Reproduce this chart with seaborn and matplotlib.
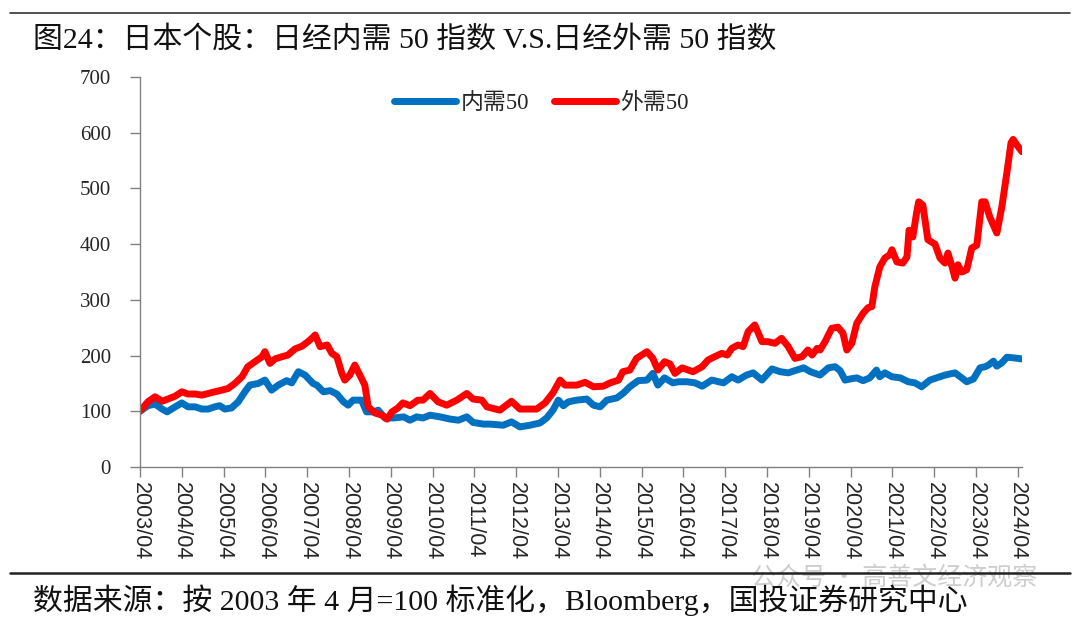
import matplotlib
matplotlib.use("Agg")
import matplotlib.pyplot as plt
from matplotlib.lines import Line2D
import pandas as pd
import seaborn as sns

# 内需50 (按 2003 年 4 月=100), x 为小数年份
nx_t = [2003.25, 2003.44, 2003.61, 2003.78, 2003.90, 2004.05, 2004.25, 2004.40, 2004.57, 2004.73,
        2004.88, 2005.04, 2005.16, 2005.28, 2005.44, 2005.60, 2005.76, 2005.88, 2006.08, 2006.24,
        2006.40, 2006.56, 2006.76, 2006.88, 2007.04, 2007.20, 2007.39, 2007.48, 2007.64, 2007.80,
        2007.96, 2008.12, 2008.23, 2008.35, 2008.55, 2008.67, 2008.83, 2008.95, 2009.11, 2009.32,
        2009.56, 2009.71, 2009.87, 2010.02, 2010.19, 2010.43, 2010.67, 2010.87, 2011.07, 2011.22,
        2011.47, 2011.63, 2011.94, 2012.14, 2012.34, 2012.58, 2012.82, 2012.98, 2013.13, 2013.26,
        2013.38, 2013.50, 2013.70, 2013.94, 2014.10, 2014.26, 2014.42, 2014.66, 2014.82, 2014.97,
        2015.17, 2015.38, 2015.52, 2015.64, 2015.80, 2016.00, 2016.13, 2016.33, 2016.53, 2016.70,
        2016.93, 2017.21, 2017.41, 2017.56, 2017.76, 2017.92, 2018.13, 2018.37, 2018.57, 2018.76,
        2018.96, 2019.13, 2019.29, 2019.52, 2019.72, 2019.88, 2020.00, 2020.12, 2020.24, 2020.40,
        2020.55, 2020.71, 2020.87, 2020.95, 2021.07, 2021.24, 2021.44, 2021.63, 2021.79, 2021.95,
        2022.15, 2022.39, 2022.51, 2022.75, 2022.91, 2023.03, 2023.19, 2023.35, 2023.47, 2023.55,
        2023.67, 2023.75, 2023.87, 2023.99, 2024.14, 2024.35]
nx_v = [100, 110, 113, 104, 99, 106, 115, 108, 108, 104,
        104, 108, 110, 104, 106, 117, 135, 147, 150, 156,
        138, 147, 155, 151, 171, 165, 150, 147, 135, 137,
        131, 117, 111, 120, 120, 99, 99, 102, 88, 88,
        90, 84, 90, 88, 93, 90, 86, 84, 90, 80,
        77, 77, 75, 81, 72, 75, 79, 88, 102, 120,
        110, 117, 120, 122, 111, 108, 120, 124, 133, 144,
        155, 156, 168, 147, 160, 151, 153, 153, 151, 145,
        156, 151, 162, 156, 165, 169, 156, 176, 171, 169,
        174, 178, 171, 165, 178, 180, 173, 156, 158, 160,
        155, 160, 174, 162, 169, 162, 160, 153, 151, 144,
        156, 162, 165, 169, 160, 153, 158, 178, 180, 183,
        190, 181, 187, 197, 196, 194]

# 外需50
wx_t = [2003.25, 2003.44, 2003.61, 2003.78, 2003.92, 2004.09, 2004.25, 2004.40, 2004.57, 2004.73,
        2004.88, 2005.04, 2005.21, 2005.36, 2005.52, 2005.69, 2005.83, 2006.00, 2006.17, 2006.24,
        2006.36, 2006.48, 2006.65, 2006.79, 2006.96, 2007.13, 2007.27, 2007.39, 2007.44, 2007.56,
        2007.73, 2007.84, 2007.96, 2008.08, 2008.15, 2008.27, 2008.39, 2008.51, 2008.63, 2008.71,
        2008.87, 2009.04, 2009.16, 2009.28, 2009.42, 2009.54, 2009.71, 2009.90, 2010.02, 2010.19,
        2010.38, 2010.59, 2010.83, 2011.07, 2011.22, 2011.43, 2011.55, 2011.86, 2012.14, 2012.34,
        2012.74, 2012.94, 2013.13, 2013.30, 2013.42, 2013.70, 2013.90, 2014.10, 2014.33, 2014.50,
        2014.70, 2014.80, 2014.97, 2015.13, 2015.38, 2015.52, 2015.64, 2015.80, 2015.93, 2016.05,
        2016.22, 2016.48, 2016.70, 2016.84, 2017.00, 2017.17, 2017.30, 2017.41, 2017.56, 2017.68,
        2017.80, 2017.96, 2018.13, 2018.27, 2018.44, 2018.60, 2018.76, 2018.92, 2019.09, 2019.23,
        2019.33, 2019.45, 2019.52, 2019.64, 2019.80, 2019.95, 2020.07, 2020.16, 2020.28, 2020.40,
        2020.55, 2020.67, 2020.76, 2020.83, 2020.95, 2021.07, 2021.19, 2021.24, 2021.36, 2021.50,
        2021.60, 2021.65, 2021.74, 2021.83, 2021.88, 2021.98, 2022.10, 2022.27, 2022.39, 2022.51,
        2022.58, 2022.68, 2022.75, 2022.82, 2022.91, 2023.03, 2023.15, 2023.27, 2023.39, 2023.47,
        2023.58, 2023.75, 2023.87, 2023.99, 2024.09, 2024.14, 2024.23, 2024.35]
wx_v = [100, 117, 126, 118, 122, 127, 135, 131, 131, 129,
        132, 135, 138, 141, 150, 162, 180, 189, 198, 207,
        186, 194, 198, 201, 212, 217, 225, 233, 237, 216,
        219, 204, 198, 168, 156, 165, 183, 165, 147, 108,
        97, 93, 86, 99, 106, 115, 110, 120, 120, 132,
        117, 111, 120, 132, 122, 120, 108, 102, 118, 104,
        104, 115, 133, 156, 147, 147, 152, 144, 145, 151,
        156, 171, 174, 195, 207, 195, 174, 189, 185, 168,
        178, 171, 180, 192, 198, 204, 201, 213, 219, 216,
        243, 255, 225, 225, 222, 231, 216, 195, 198, 210,
        201, 213, 210, 225, 249, 251, 240, 210, 222, 258,
        276, 286, 288, 323, 359, 375, 381, 390, 368, 366,
        377, 425, 413, 456, 476, 470, 408, 400, 375, 366,
        384, 359, 339, 363, 350, 354, 393, 398, 476, 476,
        449, 420, 467, 528, 582, 588, 578, 566]

years = list(range(2003, 2025))
xtick_labels = [f"{y}/04" for y in years]
yticks = [0, 100, 200, 300, 400, 500, 600, 700]

title = "图24：日本个股：日经内需 50 指数 V.S.日经外需 50 指数"
source = "数据来源：按 2003 年 4 月=100 标准化，Bloomberg，国投证券研究中心"

sns.set_style("ticks")
plt.rcParams['font.family'] = ['Liberation Serif', 'Noto Sans CJK SC']
plt.rcParams['axes.unicode_minus'] = False

df_nx = pd.DataFrame({'t': nx_t, 'v': nx_v})
df_wx = pd.DataFrame({'t': wx_t, 'v': wx_v})

fig = plt.figure(figsize=(10.8, 6.23), dpi=100)
ax = fig.add_axes([0.1296, 0.2504, 0.8170, 0.6260])

sns.lineplot(data=df_nx, x='t', y='v', ax=ax, color='#0070C0', linewidth=5,
             label='内需50', estimator=None, sort=False,
             solid_joinstyle='round', solid_capstyle='round')
sns.lineplot(data=df_wx, x='t', y='v', ax=ax, color='#FF0000', linewidth=5,
             label='外需50', estimator=None, sort=False,
             solid_joinstyle='round', solid_capstyle='round')

ax.set_xlim(2003.25, 2024.36)
ax.set_ylim(0, 700)
ax.set_xticks([y + 0.25 for y in years])
ax.set_xticklabels(xtick_labels, rotation=270, fontsize=15.5,
                   family=['Liberation Sans', 'DejaVu Sans'])
ax.set_yticks(yticks)
ax.set_yticklabels([str(v) for v in yticks], fontsize=15)
ax.set_xlabel('')
ax.set_ylabel('')
ax.tick_params(axis='y', length=7, width=1, color='#808080', pad=14)
ax.tick_params(axis='x', length=7, width=1, color='#808080', pad=4)
sns.despine(ax=ax)
for s in ['left', 'bottom']:
    ax.spines[s].set_color('#808080')
    ax.spines[s].set_linewidth(1)

ax.legend(loc='center', bbox_to_anchor=(0.455, 0.933), ncol=2, frameon=False,
          fontsize=16.5, handlelength=2.7, handletextpad=0.2, columnspacing=1.1)

# 顶部和底部分隔线
fig.add_artist(Line2D([0.009, 0.991], [1 - 13 / 623, 1 - 13 / 623], color='#333333', linewidth=1.2))
fig.add_artist(Line2D([0.009, 0.991], [1 - 573 / 623, 1 - 573 / 623], color='#222222', linewidth=1.8))

fig.text(0.031, 1 - 40 / 623, title, fontsize=21.5, va='center', ha='left', color='#111111')
fig.text(0.031, 1 - 600 / 623, source, fontsize=21.5, va='center', ha='left', color='#111111')
fig.text(0.695, 1 - 578 / 623, "公众号 · 高善文经济观察", fontsize=18, va='center', ha='left',
         color='#c8c8c8', family=['Noto Sans CJK SC', 'DejaVu Sans'], alpha=0.9, zorder=0)

fig.savefig('out.png', dpi=100)
